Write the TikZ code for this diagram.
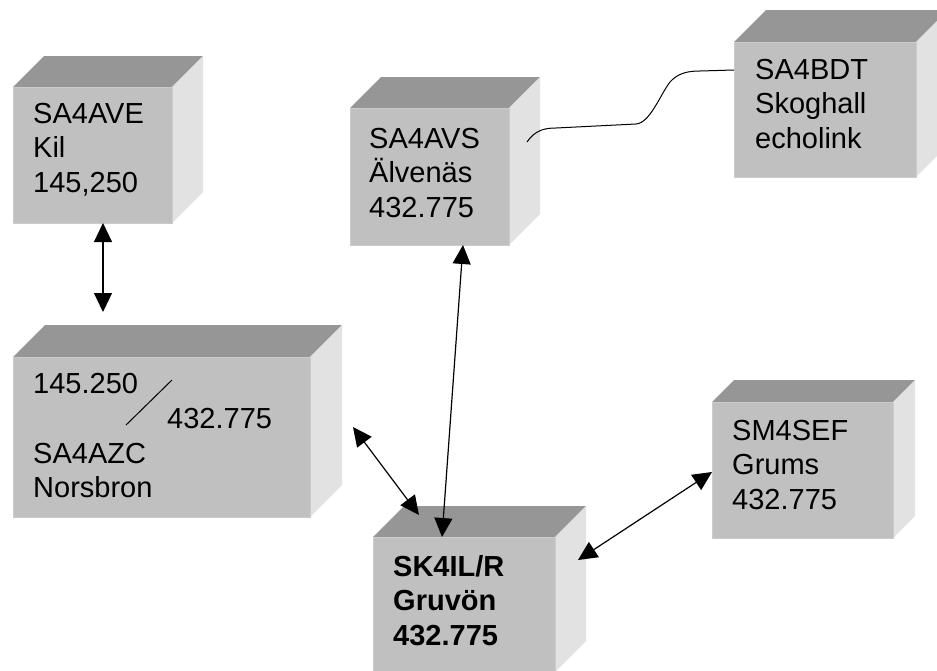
\documentclass[tikz,border=0pt]{standalone}
\usepackage{fontspec}
\setmainfont{Liberation Sans}
\usetikzlibrary{arrows.meta}
\definecolor{frontc}{HTML}{C0C0C0}
\definecolor{topc}{HTML}{969696}
\definecolor{sidec}{HTML}{E2E2E2}
\definecolor{edgec}{HTML}{CCCCCC}
\tikzset{
  frontface/.style={fill=frontc, draw=edgec, line width=1pt, inner sep=0pt, outer sep=0pt, anchor=north west},
  lbl/.style={font=\fontsize{29}{34.5}\selectfont, align=left, inner sep=0pt, text width=7cm, anchor=base west},
  biarrow/.style={line width=1.2pt, {Triangle[length=19pt,width=18pt]}-{Triangle[length=19pt,width=18pt]}},
  wire/.style={line width=1pt}
}
% name, x, y (front top-left), width, height, depth
\newcommand\cubebox[6]{%
  \fill[topc] (#2,#3) -- ++(#6,-#6) -- ++(#4,0) -- ++(-#6,#6) -- cycle;
  \fill[sidec] (#2+#4,#3) -- ++(#6,-#6) -- ++(0,#5) -- ++(-#6,#6) -- cycle;
  \node[frontface, minimum width=#4pt, minimum height=#5pt] (#1) at (#2,#3) {};
}
\begin{document}
\begin{tikzpicture}[x=1pt,y=-1pt]
\useasboundingbox (0,0) rectangle (937,670);
\clip (0,0) rectangle (937,670);

% boxes
\cubebox{ave}{13}{87}{159}{136}{31}
\cubebox{avs}{350}{108}{159}{137}{31}
\cubebox{bdt}{734}{42}{182}{135}{32}
\cubebox{azc}{13}{357}{297}{160}{32}
\cubebox{sk}{373}{537}{182}{135}{31}
\cubebox{sef}{712}{402}{181}{136}{22}

% texts
\node[lbl] (aveT) at (33,123) {SA4AVE\\Kil\\145,250};
\node[lbl] (avsT) at (369,148) {SA4AVS\\Älvenäs\\432.775};
\node[lbl] (bdtT) at (755,79) {SA4BDT\\Skoghall\\echolink};
\node[lbl] (azcA) at (33,393) {145.250};
\node[lbl] (azcB) at (167,428) {432.775};
\node[lbl] (azcT) at (33,463) {SA4AZC\\Norsbron};
\node[lbl, font=\fontsize{29}{34.5}\selectfont\bfseries] (skT) at (393,576) {SK4IL/R\\Gruvön\\432.775};
\node[lbl] (sefT) at (732,440) {SM4SEF\\Grums\\432.775};

% slash in SA4AZC
\coordinate (slA) at (126,425);
\coordinate (slB) at (172,380);
\draw[line width=1pt] (slA) -- (slB);

% connector end points
\coordinate (aveS) at (103,223);
\coordinate (azcN) at (103,312);
\coordinate (avsS) at (463,245);
\coordinate (skN) at (442,537);
\coordinate (azcE) at (353,427);
\coordinate (skNW) at (419,515);
\coordinate (skE) at (578,560);
\coordinate (sefW) at (712,472);
\coordinate (avsE) at (527,142);
\coordinate (bdtW) at (734,70);

\draw[biarrow] (aveS) -- (azcN);
\draw[biarrow] (avsS) -- (skN);
\draw[biarrow] (azcE) -- (skNW);
\draw[biarrow] (skE) -- (sefW);

\draw[wire] (avsE) .. controls (535,130) and (545,128) .. (556,128)
  -- (636,124) .. controls (650,123) and (660,95) .. (670,82)
  .. controls (678,73) and (688,71) .. (700,71) -- (bdtW);
\end{tikzpicture}
\end{document}
